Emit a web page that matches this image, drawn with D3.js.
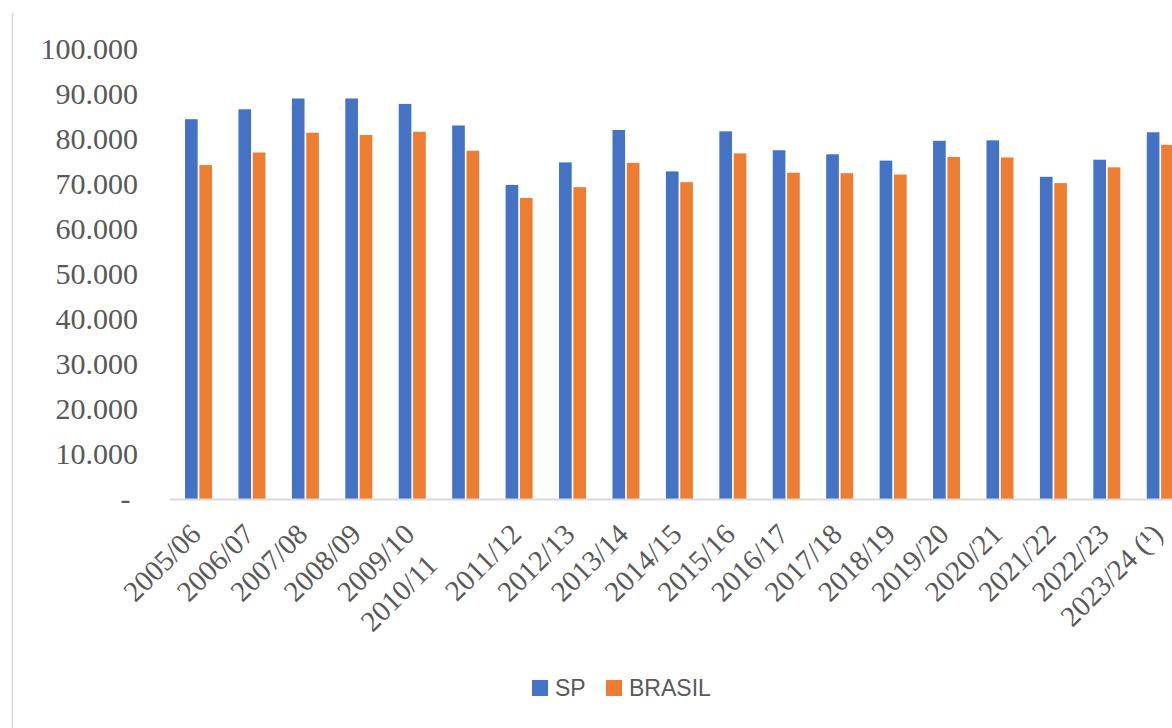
<!DOCTYPE html>
<html>
<head>
<meta charset="utf-8">
<script src="https://cdn.jsdelivr.net/npm/d3@7"></script>
<style>
  html, body { margin: 0; padding: 0; background: #fff; }
  svg { display: block; }
</style>
</head>
<body>
<div id="chart"></div>
<script>
// dados (safras)
const safras = ["2005/06", "2006/07", "2007/08", "2008/09", "2009/10",
  "2010/11\u00a0\u00a0\u00a0\u00a0\u00a0\u00a0", "2011/12", "2012/13", "2013/14", "2014/15",
  "2015/16", "2016/17", "2017/18", "2018/19", "2019/20", "2020/21", "2021/22",
  "2022/23", "2023/24 (¹)"];
const valoresSP = [84400, 86600, 89000, 89000, 87800, 83000, 69800, 74800, 82000,
  72800, 81700, 77500, 76600, 75200, 79600, 79700, 71600, 75400, 81500];
const valoresBrasil = [74200, 77000, 81400, 80900, 81600, 77400, 66900, 69300, 74700,
  70400, 76800, 72500, 72400, 72100, 76000, 75900, 70200, 73700, 78700];
const series = ["SP", "BRASIL"];
const cores = ["#4472c4", "#ed7d31"];
const yTicks = [0, 10000, 20000, 30000, 40000, 50000, 60000, 70000, 80000, 90000, 100000];

const width = 1172, height = 728;

const svg = d3.select("#chart").append("svg")
  .attr("width", width)
  .attr("height", height);

// borda esquerda da área do gráfico
svg.append("line")
  .attr("x1", 12.5).attr("x2", 12.5)
  .attr("y1", 13).attr("y2", height)
  .style("stroke", "#d9d9d9")
  .style("stroke-width", 1.5);

const ptBR = d3.formatLocale({ decimal: ",", thousands: ".", grouping: [3], currency: ["R$", ""] });
const fmt = ptBR.format(",.0f");

const y = d3.scaleLinear().domain([0, 100000]).range([499, 49]);

// o último grupo fica cortado na borda direita, como no original
const x = d3.scaleBand().domain(safras).range([171.8, 1187]).padding(0);
const xSub = d3.scaleBand().domain(series).range([-13.5, 13.5]).paddingInner(0.12);

// eixo Y
const yAxis = svg.append("g")
  .attr("transform", "translate(138,0)")
  .call(d3.axisLeft(y).tickValues(yTicks).tickSize(0).tickPadding(0)
    .tickFormat(d => d === 0 ? "-\u00a0" : fmt(d)));
yAxis.select(".domain").remove();
yAxis.selectAll("text")
  .style("font-family", "'Liberation Serif', 'Times New Roman', serif")
  .style("font-size", "30px")
  .style("fill", "#595959");

// barras
const dados = safras.map((s, i) => ({ safra: s, valores: [valoresSP[i], valoresBrasil[i]] }));

const grupos = svg.append("g").selectAll("g")
  .data(dados)
  .enter()
  .append("g")
  .attr("transform", d => `translate(${x(d.safra) + x.bandwidth() / 2},0)`);

grupos.selectAll("rect")
  .data(d => d.valores.map((v, j) => ({ serie: series[j], valor: v, cor: cores[j] })))
  .enter()
  .append("rect")
  .attr("x", d => xSub(d.serie))
  .attr("width", xSub.bandwidth())
  .attr("y", d => y(d.valor))
  .attr("height", d => y(0) - y(d.valor))
  .style("fill", d => d.cor);

// linha do eixo X
svg.append("line")
  .attr("x1", 170).attr("x2", width)
  .attr("y1", y(0) + 0.5).attr("y2", y(0) + 0.5)
  .style("stroke", "#d9d9d9")
  .style("stroke-width", 2);

// rótulos do eixo X (girados)
svg.append("g").selectAll("text")
  .data(safras)
  .enter()
  .append("text")
  .attr("transform", d => `translate(${x(d) + x.bandwidth() / 2 + 4},536) rotate(-45)`)
  .attr("text-anchor", "end")
  .style("font-family", "'Liberation Serif', 'Times New Roman', serif")
  .style("font-size", "29px")
  .style("fill", "#595959")
  .text(d => d);

// legenda
const legenda = svg.append("g");
const legX = [532, 606];
series.forEach((s, i) => {
  legenda.append("rect")
    .attr("x", legX[i]).attr("y", 680)
    .attr("width", 16).attr("height", 16)
    .style("fill", cores[i]);
  legenda.append("text")
    .attr("x", legX[i] + 23).attr("y", 696)
    .style("font-family", "'Liberation Sans', Arial, sans-serif")
    .style("font-size", "23px")
    .style("fill", "#595959")
    .text(s);
});
</script>
</body>
</html>
